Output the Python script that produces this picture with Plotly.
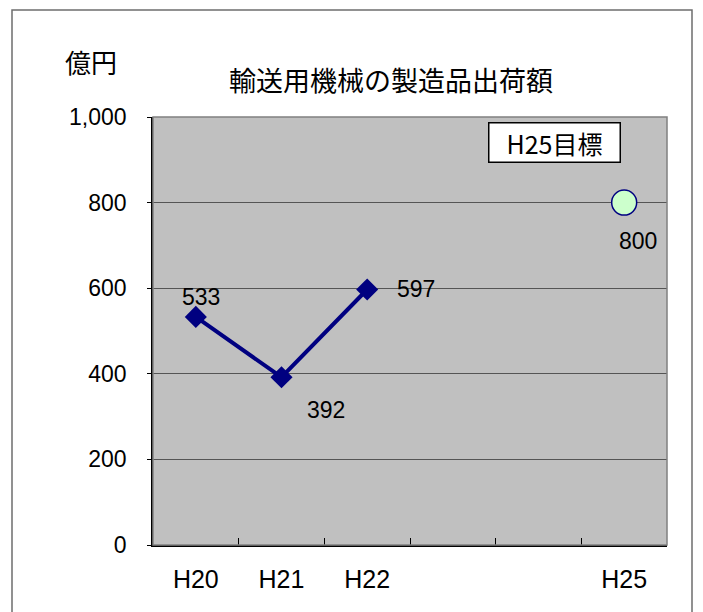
import plotly.graph_objects as go

categories = ["H20", "H21", "H22", " ", "  ", "H25"]
actual_x = ["H20", "H21", "H22"]
actual_values = [533, 392, 597]
target_x = ["H25"]
target_values = [800]
y_ticks = [0, 200, 400, 600, 800, 1000]
y_tick_labels = ["0", "200", "400", "600", "800", "1,000"]

FONT = "Liberation Sans, Arial, Noto Sans CJK JP, sans-serif"
JFONT = "Noto Sans CJK JP, sans-serif"

W, H = 703, 612
L, R, T, B = 153, 667, 117, 545
def px(xp):
    return (xp - L) / (R - L)
def py(yp):
    return (B - yp) / (B - T)

fig = go.Figure()
fig.add_trace(go.Scatter(
    x=actual_x, y=actual_values, mode="lines+markers",
    line=dict(color="#000080", width=4),
    marker=dict(symbol="diamond", size=17, color="#000080"),
    showlegend=False, hoverinfo="skip",
))
fig.add_trace(go.Scatter(
    x=target_x, y=target_values, mode="markers",
    marker=dict(symbol="circle", size=25, color="#ccffcc",
                line=dict(color="#000080", width=1.5)),
    showlegend=False, hoverinfo="skip",
))

label_offsets = {"H20": (5, 20), "H21": (44, -33), "H22": (49, 0), "H25": (14, -38)}
for xv, yv in list(zip(actual_x, actual_values)) + list(zip(target_x, target_values)):
    dx, dy = label_offsets[xv]
    fig.add_annotation(x=xv, y=yv, xref="x", yref="y", text=str(yv),
                       showarrow=False, xshift=dx, yshift=dy,
                       xanchor="center", yanchor="middle",
                       font=dict(family=FONT, size=23, color="#000000"))

fig.add_annotation(x=px(554), y=py(143), xref="paper", yref="paper", text="H25目標",
                   xanchor="center", yanchor="middle",
                   showarrow=False, font=dict(family=JFONT, size=25, color="#000000"),
                   width=126, height=34, bgcolor="#ffffff", bordercolor="#000000",
                   borderwidth=1.5, borderpad=2)

fig.add_annotation(x=px(391), y=py(80), xref="paper", yref="paper",
                   xanchor="center", yanchor="middle",
                   text="輸送用機械の製造品出荷額", showarrow=False,
                   font=dict(family=JFONT, size=27, color="#000000"))
fig.add_annotation(x=px(91), y=py(62), xref="paper", yref="paper",
                   xanchor="center", yanchor="middle",
                   text="億円", showarrow=False,
                   font=dict(family=JFONT, size=26, color="#000000"))

# outer chart border
fig.add_shape(type="rect", xref="paper", yref="paper",
              x0=px(12), x1=px(692), y0=py(640), y1=py(10),
              line=dict(color="#6e6e6e", width=1.5), layer="below")
# plot area border
fig.add_shape(type="rect", xref="paper", yref="paper",
              x0=0, x1=1, y0=0, y1=1,
              line=dict(color="#808080", width=1.5), layer="above")

fig.update_layout(
    width=W, height=H,
    margin=dict(l=L, r=W - R, t=T, b=H - B),
    paper_bgcolor="#ffffff", plot_bgcolor="#c0c0c0",
    font=dict(family=FONT, size=18, color="#000000"),
)
fig.update_xaxes(
    type="category", categoryorder="array", categoryarray=categories,
    tickmode="array", tickvals=categories, ticktext=categories,
    range=[-0.5, 5.5], tickson="boundaries", ticks="inside", ticklen=7,
    tickcolor="#000000", tickwidth=1.2,
    showline=True, linecolor="#000000", linewidth=1.5,
    showgrid=False, zeroline=False, ticklabelstandoff=11,
    tickfont=dict(family=FONT, size=25),
)
fig.update_yaxes(
    range=[0, 1000], tickmode="array", tickvals=y_ticks, ticktext=y_tick_labels,
    ticks="outside", ticklen=4, tickcolor="#000000",
    showline=True, linecolor="#000000", linewidth=1.5,
    showgrid=True, gridcolor="#555555", gridwidth=1, zeroline=False,
    ticklabelstandoff=16, tickfont=dict(family=FONT, size=23),
)

fig.write_html("out.html")
